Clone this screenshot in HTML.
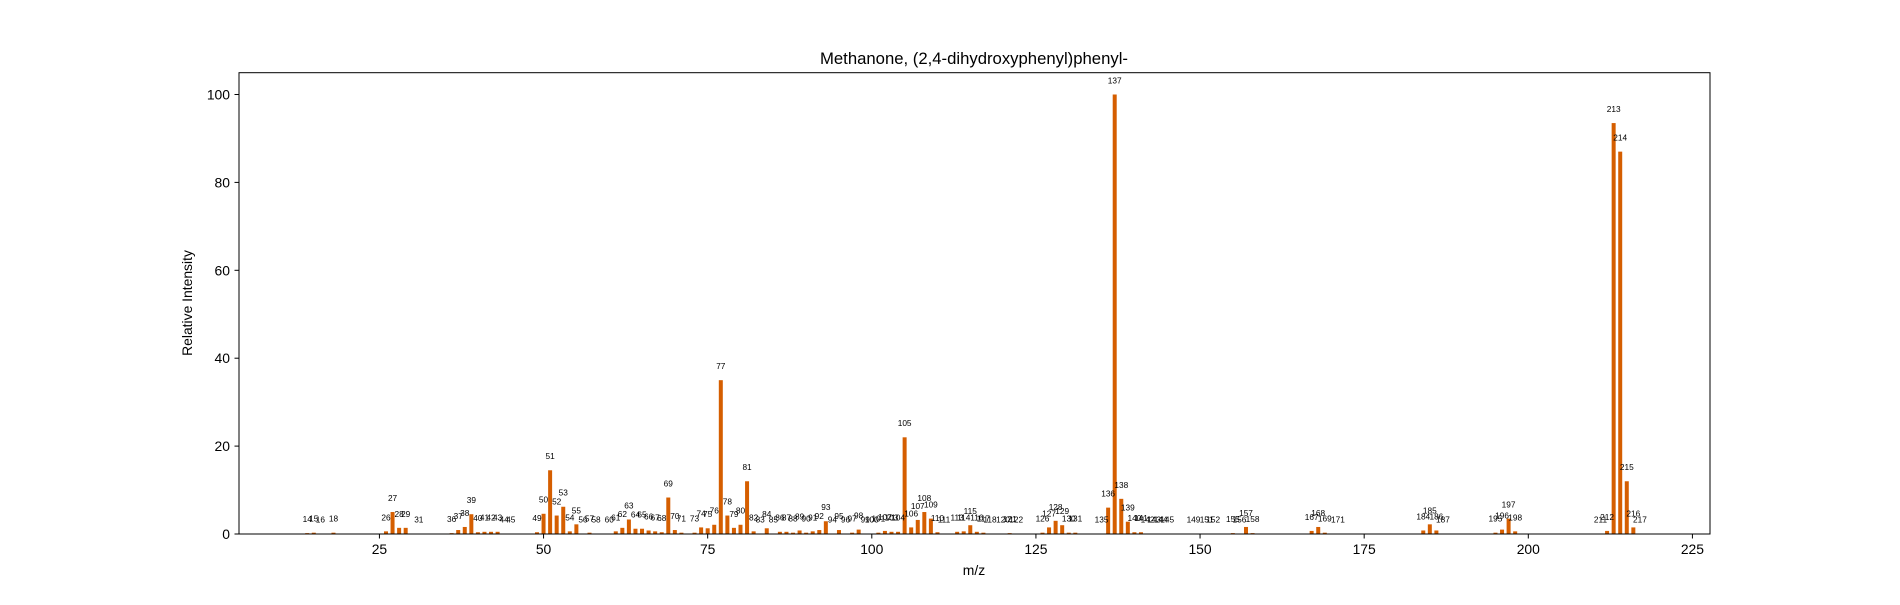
<!DOCTYPE html>
<html><head><meta charset="utf-8"><style>
body{margin:0;background:#fff;}
svg text{font-family:"Liberation Sans","DejaVu Sans",sans-serif;fill:#000;}
</style></head><body>
<svg id="chart" width="1900" height="600" viewBox="0 0 1900 600" xmlns="http://www.w3.org/2000/svg">
<text x="974" y="64" font-size="16.7" text-anchor="middle">Methanone, (2,4-dihydroxyphenyl)phenyl-</text>
<text x="974" y="575" font-size="13.9" text-anchor="middle">m/z</text>
<text x="192" y="303" font-size="13.9" text-anchor="middle" transform="rotate(-90 192 303)">Relative Intensity</text>
<g id="bars"></g>
<g id="labels"></g>
<g id="xticks"></g>
<g id="yticks"></g>
<rect x="239" y="72.7" width="1471" height="461.3" fill="none" stroke="#000" stroke-width="1"/>
</svg>
<script>
const mz = [14,15,16,18,26,27,28,29,31,36,37,38,39,40,41,42,43,44,45,49,50,51,52,53,54,55,56,57,58,60,61,62,63,64,65,66,67,68,69,70,71,73,74,75,76,77,78,79,80,81,82,83,84,85,86,87,88,89,90,91,92,93,94,95,96,97,98,99,100,101,102,103,104,105,106,107,108,109,110,111,113,114,115,116,117,118,120,121,122,126,127,128,129,130,131,135,136,137,138,139,140,141,142,143,144,145,149,151,152,155,156,157,158,167,168,169,171,184,185,186,187,195,196,197,198,211,212,213,214,215,216,217];
const intensity = [0.2,0.3,0.1,0.3,0.6,5,1.4,1.4,0.1,0.2,0.9,1.6,4.5,0.4,0.5,0.5,0.5,0.1,0.1,0.4,4.6,14.5,4.2,6.2,0.6,2.2,0.1,0.3,0.1,0.1,0.6,1.4,3.3,1.2,1.2,0.8,0.6,0.4,8.3,0.9,0.3,0.3,1.5,1.3,2.1,35,4.2,1.4,2.1,12,0.6,0.1,1.3,0.1,0.5,0.5,0.3,0.8,0.3,0.6,0.9,2.9,0.1,0.9,0.1,0.3,1.0,0.1,0.1,0.3,0.7,0.5,0.5,22,1.5,3.2,5,3.5,0.4,0.1,0.5,0.6,2,0.5,0.3,0.1,0.1,0.2,0.1,0.3,1.5,3,2,0.3,0.3,0.1,6,100,8,2.8,0.4,0.4,0.1,0.1,0.1,0.1,0.1,0.1,0.1,0.2,0.1,1.6,0.2,0.7,1.6,0.3,0.1,0.8,2.2,0.8,0.1,0.3,1,3.5,0.6,0.1,0.7,93.5,87,12,1.5,0.1];
const xTicks = [25,50,75,100,125,150,175,200,225];
const yTicks = [0,20,40,60,80,100];

const X0 = 215.3, XS = 6.565, Y0 = 534, YS = 4.395;
const xs = v => X0 + v*XS;
const ys = v => Y0 - v*YS;
const NS = "http://www.w3.org/2000/svg";
const bars = document.getElementById('bars'), labels = document.getElementById('labels');
mz.forEach((m,i)=>{
  const v = intensity[i];
  const r = document.createElementNS(NS,'rect');
  
  
  r.setAttribute('x', xs(m)-2); r.setAttribute('width', 4);
  r.setAttribute('y', ys(v)); r.setAttribute('height', Y0-ys(v));
  r.setAttribute('fill','#d55e00');
  bars.appendChild(r);
  const t = document.createElementNS(NS,'text');
  
  
  t.setAttribute('x', xs(m)); t.setAttribute('y', ys(v+3.2)+3);
  t.setAttribute('font-size','8.3'); t.setAttribute('text-anchor','middle');
  t.setAttribute('fill','#222');
  t.textContent = m;
  labels.appendChild(t);
});
const xt = document.getElementById('xticks');
xTicks.forEach(v=>{
  const l = document.createElementNS(NS,'line');
  
  
  l.setAttribute('x1',xs(v)); l.setAttribute('x2',xs(v)); l.setAttribute('y1',Y0); l.setAttribute('y2',Y0+4.5);
  l.setAttribute('stroke','#000');
  xt.appendChild(l);
  const t = document.createElementNS(NS,'text');
  
  
  t.setAttribute('x',xs(v)); t.setAttribute('y',Y0+20); t.setAttribute('font-size','13.9'); t.setAttribute('text-anchor','middle');
  t.textContent = v;
  xt.appendChild(t);
});
const yt = document.getElementById('yticks');
yTicks.forEach(v=>{
  const l = document.createElementNS(NS,'line');
  
  
  l.setAttribute('x1',239); l.setAttribute('x2',234.5); l.setAttribute('y1',ys(v)); l.setAttribute('y2',ys(v));
  l.setAttribute('stroke','#000');
  yt.appendChild(l);
  const t = document.createElementNS(NS,'text');
  
  
  t.setAttribute('x',230); t.setAttribute('y',ys(v)+5); t.setAttribute('font-size','13.9'); t.setAttribute('text-anchor','end');
  t.textContent = v;
  yt.appendChild(t);
});
</script>
</body></html>
